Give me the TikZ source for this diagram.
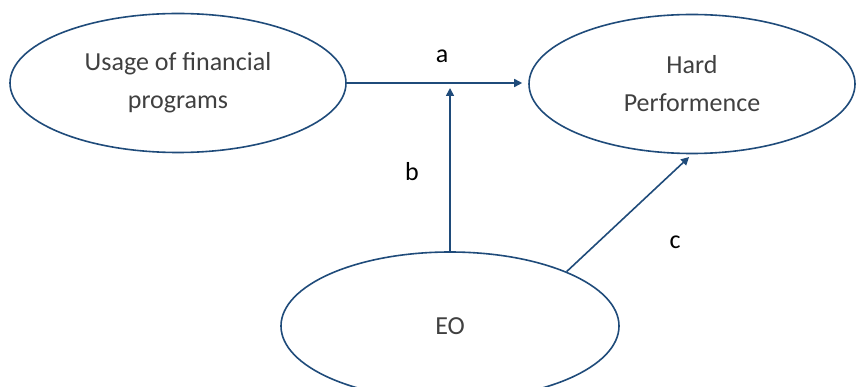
\documentclass[tikz,border=0pt]{standalone}
\usepackage{fontspec}
\setmainfont{Carlito}
\usetikzlibrary{shapes.geometric,arrows.meta}
\definecolor{lineblue}{HTML}{1F4B7A}
\definecolor{txtgray}{HTML}{404040}
\tikzset{
  oval/.style={ellipse, draw=lineblue, line width=1.6pt, inner sep=0pt, text=txtgray,
    font=\fontsize{26}{38}\selectfont, align=center},
  conn/.style={draw=lineblue, line width=1.6pt, -{Triangle[width=8pt,length=8pt]}},
  lbl/.style={font=\fontsize{26}{30}\selectfont, text=black, inner sep=0pt}
}
\begin{document}
\begin{tikzpicture}[x=1pt,y=-1pt]
\useasboundingbox (0,0) rectangle (856,387);
\node[oval, minimum width=336pt, minimum height=139pt] (L) at (178,83) {Usage of financial\\programs};
\node[oval, minimum width=326pt, minimum height=139pt] (R) at (692,84) {Hard\\Performence};
\node[oval, minimum width=338pt, minimum height=148pt] (E) at (450,326) {EO};
\coordinate (M) at (450,83);
\path[conn, shorten >=6pt] (L.east) -- (L.east -| R.west);
\path[conn, shorten >=5pt] (E.north) -- (M);
\path[conn, shorten >=4pt] (E.25.8) -- (R.south);
\node[lbl] (la) at (442,56) {a};
\node[lbl] (lb) at (412,172) {b};
\node[lbl] (lc) at (675,242) {c};
\end{tikzpicture}
\end{document}
